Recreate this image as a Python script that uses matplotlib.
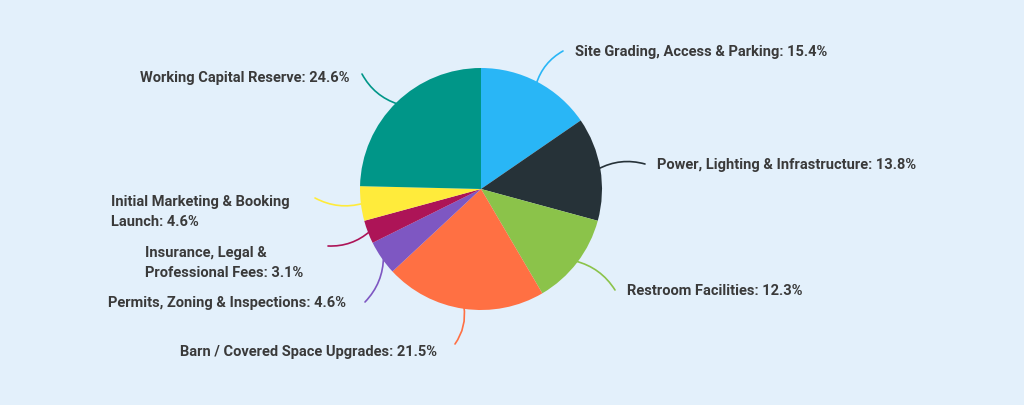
import matplotlib
matplotlib.use("Agg")
import matplotlib.pyplot as plt
import numpy as np

labels = ["Site Grading, Access & Parking: 15.4%", "Power, Lighting & Infrastructure: 13.8%",
          "Restroom Facilities: 12.3%", "Barn / Covered Space Upgrades: 21.5%",
          "Permits, Zoning & Inspections: 4.6%", "Insurance, Legal &\nProfessional Fees: 3.1%",
          "Initial Marketing & Booking\nLaunch: 4.6%", "Working Capital Reserve: 24.6%"]
values = [15.4, 13.8, 12.3, 21.5, 4.6, 3.1, 4.6, 24.6]
colors = ["#29B6F6", "#263238", "#8BC34A", "#FF7043", "#7E57C2", "#AD1457", "#FFEB3B", "#009688"]
# label text positions in figure pixels (x, y from top), alignment
text_pos = [(575, 52, "left"), (657, 165, "left"), (627, 291, "left"), (437, 352, "right"),
            (346, 303, "right"), (145, 263, "left"), (111, 212, "left"), (350, 78, "right")]
line_end = [(563, 52), (645, 165), (615, 291), (455, 345), (365, 303), (328, 247), (315, 199), (362, 75)]

bg = "#E3F0FB"
fig = plt.figure(figsize=(10.24, 4.06), dpi=100, facecolor=bg)
W, H = 1024, 406
ax = fig.add_axes([360 / W, (H - 311) / H, 242 / W, 242 / H])
ax.set_facecolor(bg)
wedges, _ = ax.pie(values, colors=colors, startangle=90, counterclock=False,
                   wedgeprops=dict(linewidth=0))
ax.set_xlim(-1, 1); ax.set_ylim(-1, 1); ax.set_aspect("equal"); ax.axis("off")

for w, lab, (tx, ty, ha), (lx, ly), c in zip(wedges, labels, text_pos, line_end, colors):
    ang = np.deg2rad((w.theta1 + w.theta2) / 2)
    p = (np.cos(ang) * 0.98, np.sin(ang) * 0.98)
    ax.annotate("", xy=p, xycoords="data", xytext=(lx / W, 1 - ly / H), textcoords="figure fraction",
                arrowprops=dict(arrowstyle="-", color=c, lw=1.2, connectionstyle="arc3,rad=0.2",
                                shrinkA=0, shrinkB=0), annotation_clip=False)
    fig.text(tx / W, 1 - ty / H, lab, ha=ha, va="center", fontsize=10.5, fontweight="bold",
             color="#3a3a3a", family=["Roboto", "DejaVu Sans"], linespacing=1.5)

fig.savefig("out.png", dpi=100, facecolor=bg)
